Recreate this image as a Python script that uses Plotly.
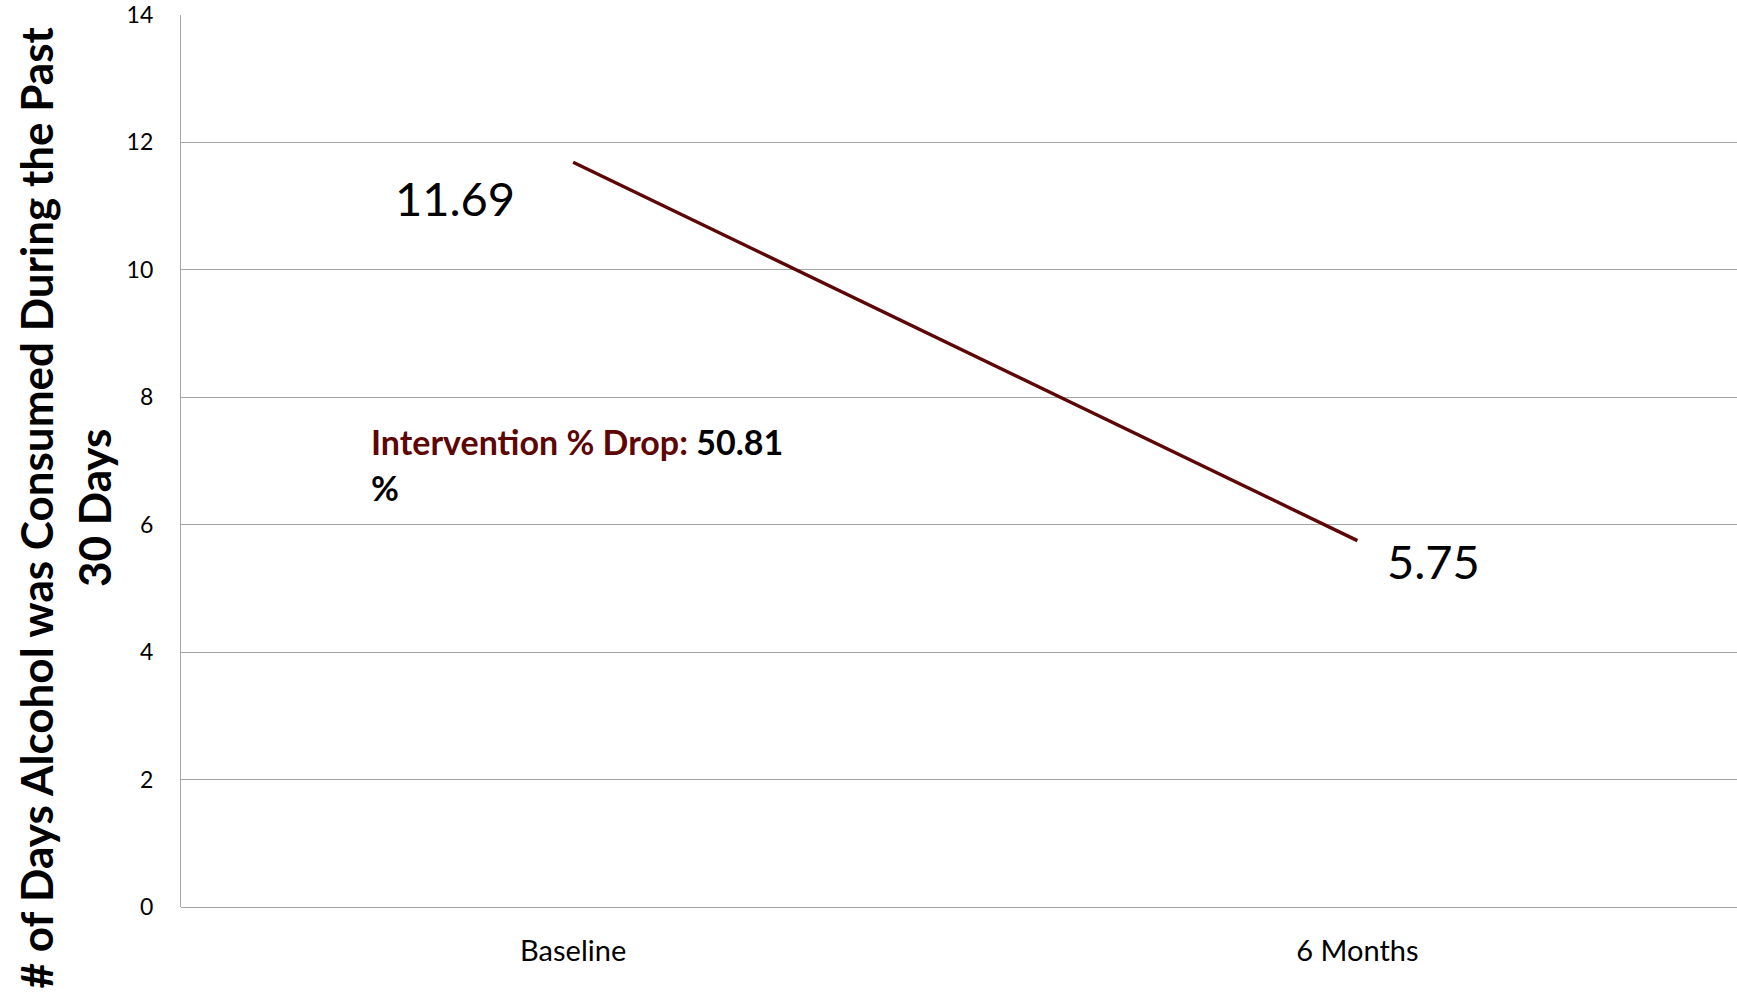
import plotly.graph_objects as go

# Mean number of drinking days in the past 30 days, by time point
categories = ["Baseline", "6 Months"]
days_values = [11.69, 5.75]
y_ticks = [0, 2, 4, 6, 8, 10, 12, 14]

pct_drop = round((days_values[0] - days_values[1]) / days_values[0] * 100, 2)

LINE_COLOR = "#5e0606"
FONT = "Lato"

fig = go.Figure()
fig.add_trace(go.Scatter(
    x=[0, 1],
    y=days_values,
    mode="lines",
    line=dict(color=LINE_COLOR, width=3.4),
    hoverinfo="skip",
    showlegend=False,
))

# Data labels beside each point
label_offsets = [(-118, -36), (76, -20)]
for i, (v, (dx, dy)) in enumerate(zip(days_values, label_offsets)):
    fig.add_annotation(
        x=i, y=v, xref="x", yref="y",
        text=f"{v:.2f}", showarrow=False,
        xshift=dx, yshift=dy,
        font=dict(family=FONT, size=47, color="#000000"),
    )

# Percent-drop callout
fig.add_annotation(
    x=0.121, y=0.5224, xref="paper", yref="paper",
    xanchor="left", yanchor="middle", showarrow=False,
    text=f"<b><span style='color:{LINE_COLOR}'>Intervention % Drop:</span> {pct_drop:.2f}</b>",
    font=dict(family=FONT, size=34, color="#000000"),
)
fig.add_annotation(
    x=0.121, y=0.470, xref="paper", yref="paper",
    xanchor="left", yanchor="middle", showarrow=False,
    text="<b>%</b>",
    font=dict(family=FONT, size=34, color="#000000"),
)

# Rotated two-line y-axis title
fig.add_annotation(
    x=-0.0749, y=0.4484, xref="paper", yref="paper",
    xanchor="center", yanchor="middle", showarrow=False,
    textangle=-90,
    text="<b># of Days Alcohol was Consumed During the Past<br>30 Days</b>",
    font=dict(family=FONT, size=44, color="#000000"),
)

fig.update_xaxes(
    range=[-0.5, 1.484],
    tickmode="array",
    tickvals=[0, 1],
    ticktext=categories,
    showgrid=False,
    zeroline=False,
    showline=False,
    ticks="",
    tickfont=dict(family=FONT, size=29, color="#000000"),
    ticklabelstandoff=24,
)
fig.update_yaxes(
    range=[0, 14],
    tickmode="array",
    tickvals=y_ticks,
    showgrid=True,
    gridcolor="#a6a6a6",
    gridwidth=1.3,
    zeroline=True,
    zerolinecolor="#a6a6a6",
    zerolinewidth=1.3,
    showline=True,
    linecolor="#a6a6a6",
    linewidth=1.3,
    ticks="",
    tickfont=dict(family=FONT, size=23, color="#000000"),
    ticklabelstandoff=22,
)

fig.update_layout(
    width=1737,
    height=997,
    margin=dict(l=181, r=0, t=15, b=90),
    plot_bgcolor="#ffffff",
    paper_bgcolor="#ffffff",
    font=dict(family=FONT),
)

fig.write_html("out.html")
